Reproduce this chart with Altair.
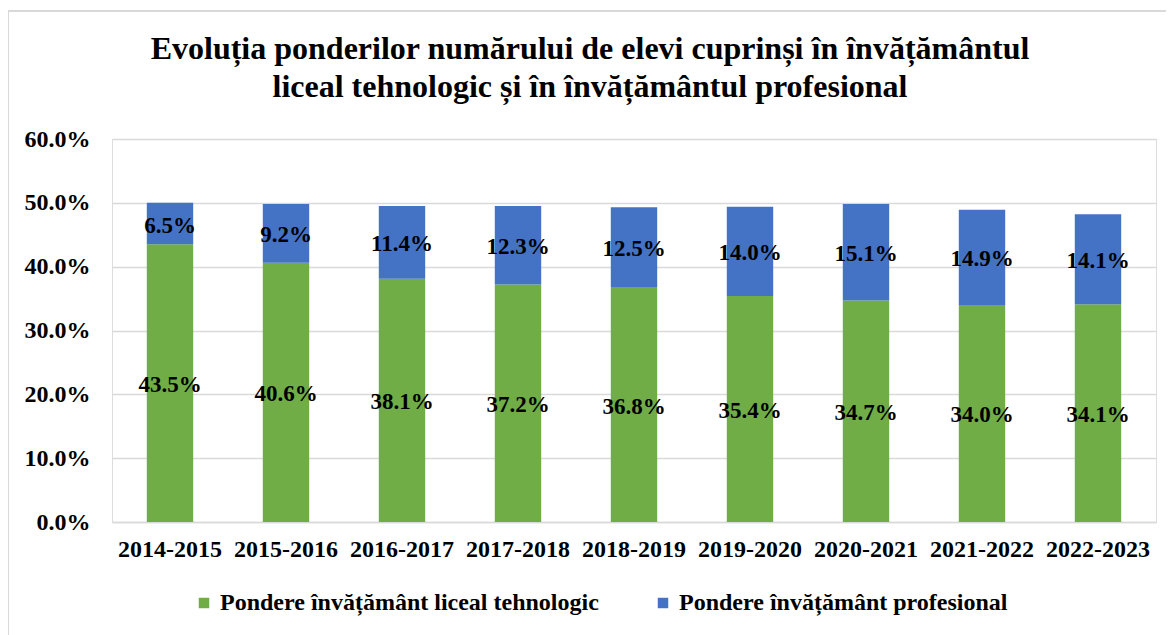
import altair as alt
import pandas as pd

years = ["2014-2015", "2015-2016", "2016-2017", "2017-2018", "2018-2019",
         "2019-2020", "2020-2021", "2021-2022", "2022-2023"]
liceal = [43.5, 40.6, 38.1, 37.2, 36.8, 35.4, 34.7, 34.0, 34.1]
profesional = [6.5, 9.2, 11.4, 12.3, 12.5, 14.0, 15.1, 14.9, 14.1]
series = ["Pondere învățământ  liceal tehnologic", "Pondere învățământ  profesional"]
colors = ["#70AD47", "#4472C4"]

rows = []
for i, y in enumerate(years):
    rows.append({"year": y, "serie": series[0], "value": liceal[i], "ord": 0})
    rows.append({"year": y, "serie": series[1], "value": profesional[i], "ord": 1})
df = pd.DataFrame(rows)

FONT = "Liberation Serif"
FS = 24

base = alt.Chart(df).transform_stack(
    stack="value", groupby=["year"], as_=["v0", "v1"], sort=[alt.SortField("ord")]
).transform_calculate(
    mid="(datum.v0 + datum.v1) / 2",
    lbl="format(datum.value, '.1f') + '%'"
)

xenc = alt.X("year:N", sort=years, title=None,
             scale=alt.Scale(paddingInner=0.6, paddingOuter=0.3),
             axis=alt.Axis(labelAngle=0, labelFont=FONT, labelFontSize=FS, labelFontWeight="bold",
                           labelColor="#000000", labelPadding=15, ticks=False,
                           domainColor="#D9D9D9", domainWidth=1.5))

bars = base.mark_bar().encode(
    x=xenc,
    y=alt.Y("v0:Q", title=None,
            scale=alt.Scale(domain=[0, 60], nice=False),
            axis=alt.Axis(values=[0, 10, 20, 30, 40, 50, 60],
                          labelExpr="format(datum.value, '.1f') + '%'",
                          labelFont=FONT, labelFontSize=FS, labelFontWeight="bold",
                          labelColor="#000000", labelPadding=22, ticks=False, domain=False,
                          gridColor="#D9D9D9", gridWidth=1.5)),
    y2="v1:Q",
    color=alt.Color("serie:N", sort=series,
                    scale=alt.Scale(domain=series, range=colors),
                    legend=alt.Legend(title=None, orient="none", direction="horizontal",
                                      legendX=80, legendY=452,
                                      symbolType="square", symbolSize=110, symbolStrokeWidth=0,
                                      labelFont=FONT, labelFontSize=FS, labelFontWeight="bold",
                                      labelColor="#000000", columnPadding=46, labelLimit=500)),
    order=alt.Order("ord:Q"),
)

labels = base.mark_text(font=FONT, fontSize=23, fontWeight="bold", color="#000000",
                        baseline="middle", dy=2).encode(
    x=alt.X("year:N", sort=years),
    y=alt.Y("mid:Q"),
    text="lbl:N",
)

frame_top = alt.Chart(pd.DataFrame({"a": [0]})).mark_rule(color="#D9D9D9", strokeWidth=2).encode(
    x=alt.value(-104), x2=alt.value(1062), y=alt.value(-128))
frame_left = alt.Chart(pd.DataFrame({"a": [0]})).mark_rule(color="#D9D9D9", strokeWidth=2).encode(
    x=alt.value(-104), y=alt.value(-128), y2=alt.value(500))

chart = alt.layer(bars, labels, frame_top, frame_left).properties(
    width=1044, height=383,
    autosize=alt.AutoSizeParams(type="none"),
    padding={"left": 104, "top": 131, "right": 10, "bottom": 113},
    title=alt.Title(["Evoluția ponderilor numărului de elevi cuprinși în învățământul",
                     "liceal tehnologic și în învățământul profesional"],
                    font=FONT, fontSize=32, fontWeight="bold", color="#000000",
                    anchor="middle", frame="group", dx=-44, offset=-126, lineHeight=38,
                    baseline="bottom"),
).configure_view(stroke=None).configure(background="#FFFFFF", font=FONT)

chart.save("out.html", embed_options={"renderer": "svg", "actions": False})
